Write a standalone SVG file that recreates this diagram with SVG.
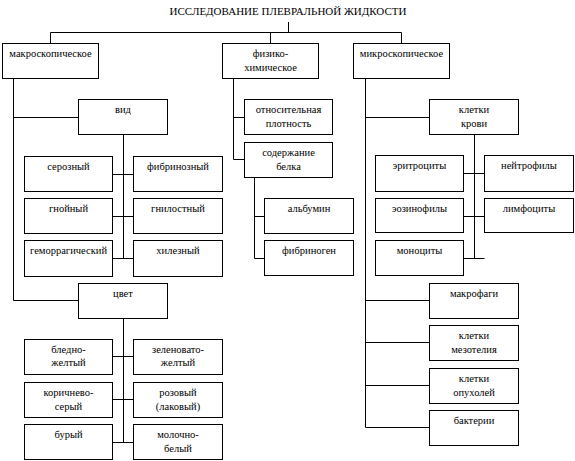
<svg xmlns="http://www.w3.org/2000/svg" width="575" height="461" viewBox="0 0 575 461" font-family="'Liberation Serif', serif">
<style>
rect{fill:#fff;stroke:#000;stroke-width:1}
.c path{fill:none;stroke:#000;stroke-width:1}
text{font-family:'Liberation Serif',serif;font-size:10.5px;fill:#000;text-anchor:middle}
.t{font-size:11px}
</style>
<rect x="0" y="0" width="575" height="461" style="stroke:none"/>
<g class="c" id="connectors">
<path d="M288.5 22V32.5M50.5 43V32.5H401.5V43M270.5 32.5V43"/>
<path d="M13.5 78.5V300.5M13.5 117.5H78.5M13.5 300.5H78.5"/>
<path d="M123.5 134.5V258.5M112.5 174.5H133.5M112.5 216.5H133.5M112.5 258.5H133.5"/>
<path d="M123.5 318.5V442.5M112.5 356.5H133.5M112.5 399.5H133.5M112.5 442.5H133.5"/>
<path d="M233.5 78.5V159.5M233.5 117.5H244.5M233.5 159.5H244.5"/>
<path d="M254.5 177.5V258.5M254.5 216.5H264.5M254.5 258.5H264.5"/>
<path d="M365.5 78.5V427.5M365.5 117.5H429.5M365.5 300.5H429.5M365.5 342.5H429.5M365.5 385.5H429.5M365.5 427.5H429.5"/>
<path d="M474.5 134.5V258.5M463.5 173.5H484.5M463.5 216.5H484.5M463.5 258.5H484.5"/>
</g>
<g id="title"><text class="t" x="288" y="15">ИССЛЕДОВАНИЕ ПЛЕВРАЛЬНОЙ ЖИДКОСТИ</text></g>
<g id="n-macro"><rect x="2.5" y="43.5" width="96" height="35"/><text x="50.5" y="57">макроскопическое</text></g>
<g id="n-phys"><rect x="222.5" y="43.5" width="96" height="35"/><text x="270.5" y="57">физико-</text><text x="270.5" y="70.5">химическое</text></g>
<g id="n-micro"><rect x="353.5" y="43.5" width="96" height="35"/><text x="401.5" y="57">микроскопическое</text></g>
<g id="n-vid"><rect x="78.5" y="99.5" width="89" height="35"/><text x="123" y="113">вид</text></g>
<g id="n-serous"><rect x="24.5" y="156.5" width="88" height="35"/><text x="68.5" y="170">серозный</text></g>
<g id="n-fibrinous"><rect x="133.5" y="156.5" width="89" height="35"/><text x="178" y="170">фибринозный</text></g>
<g id="n-purulent"><rect x="24.5" y="198.5" width="88" height="35"/><text x="68.5" y="212">гнойный</text></g>
<g id="n-putrid"><rect x="133.5" y="198.5" width="89" height="35"/><text x="178" y="212">гнилостный</text></g>
<g id="n-hemorrhagic"><rect x="24.5" y="240.5" width="88" height="36"/><text x="68.5" y="254">геморрагический</text></g>
<g id="n-chylous"><rect x="133.5" y="240.5" width="89" height="36"/><text x="178" y="254">хилезный</text></g>
<g id="n-color"><rect x="78.5" y="283.5" width="89" height="35"/><text x="123" y="297">цвет</text></g>
<g id="n-paleyellow"><rect x="24.5" y="339.5" width="88" height="35"/><text x="68.5" y="353">бледно-</text><text x="68.5" y="366">желтый</text></g>
<g id="n-greenyellow"><rect x="133.5" y="339.5" width="89" height="35"/><text x="178" y="353">зеленовато-</text><text x="178" y="366">желтый</text></g>
<g id="n-browngray"><rect x="24.5" y="382.5" width="88" height="35"/><text x="68.5" y="396">коричнево-</text><text x="68.5" y="409.5">серый</text></g>
<g id="n-pink"><rect x="133.5" y="382.5" width="89" height="35"/><text x="178" y="396">розовый</text><text x="178" y="409.5">(лаковый)</text></g>
<g id="n-brown"><rect x="24.5" y="424.5" width="88" height="35"/><text x="68.5" y="438">бурый</text></g>
<g id="n-milky"><rect x="133.5" y="424.5" width="89" height="35"/><text x="178" y="438">молочно-</text><text x="178" y="451.5">белый</text></g>
<g id="n-density"><rect x="244.5" y="99.5" width="88" height="35"/><text x="288.5" y="113">относительная</text><text x="288.5" y="126.5">плотность</text></g>
<g id="n-protein"><rect x="244.5" y="142.5" width="88" height="35"/><text x="288.5" y="156">содержание</text><text x="288.5" y="169.5">белка</text></g>
<g id="n-albumin"><rect x="264.5" y="198.5" width="89" height="35"/><text x="309" y="212">альбумин</text></g>
<g id="n-fibrinogen"><rect x="264.5" y="240.5" width="89" height="35"/><text x="309" y="254">фибриноген</text></g>
<g id="n-blood"><rect x="429.5" y="99.5" width="89" height="35"/><text x="474" y="113">клетки</text><text x="474" y="126.5">крови</text></g>
<g id="n-erythro"><rect x="375.5" y="155.5" width="88" height="36"/><text x="419.5" y="169">эритроциты</text></g>
<g id="n-neutro"><rect x="484.5" y="155.5" width="89" height="36"/><text x="529" y="169">нейтрофилы</text></g>
<g id="n-eosino"><rect x="375.5" y="198.5" width="88" height="34"/><text x="419.5" y="212">эозинофилы</text></g>
<g id="n-lympho"><rect x="484.5" y="198.5" width="89" height="34"/><text x="529" y="212">лимфоциты</text></g>
<g id="n-mono"><rect x="375.5" y="240.5" width="88" height="35"/><text x="419.5" y="254">моноциты</text></g>
<g id="n-macrophage"><rect x="429.5" y="283.5" width="89" height="35"/><text x="474" y="297">макрофаги</text></g>
<g id="n-mesothel"><rect x="429.5" y="325.5" width="89" height="35"/><text x="474" y="339">клетки</text><text x="474" y="352.5">мезотелия</text></g>
<g id="n-tumor"><rect x="429.5" y="368.5" width="89" height="35"/><text x="474" y="382">клетки</text><text x="474" y="395.5">опухолей</text></g>
<g id="n-bacteria"><rect x="429.5" y="410.5" width="89" height="35"/><text x="474" y="424">бактерии</text></g>
</svg>
